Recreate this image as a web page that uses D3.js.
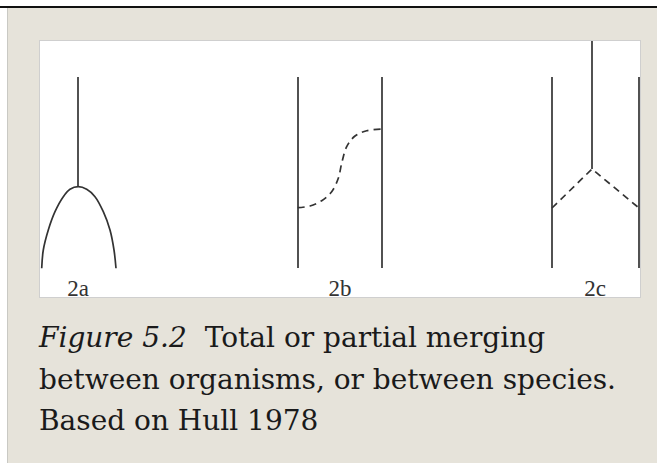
<!DOCTYPE html>
<html>
<head>
<meta charset="utf-8">
<script src="https://cdn.jsdelivr.net/npm/d3@7"></script>
<style>
  body { margin: 0; background: #ffffff; }
  svg { display: block; }
</style>
</head>
<body>
<div id="figure"></div>
<script>
// panel labels and their x position (box units, 0..600 wide, 0..256 high, y up)
var panelLabels = ["2a", "2b", "2c"];
var labelX = [38, 300, 555];

// solid lineages: [x, yBottom, yTop]
var solidLines = [
    [38, 110, 220],   // 2a stem above the split
    [258, 29, 220],   // 2b left
    [342, 29, 220],   // 2b right
    [552, 128, 256],  // 2c stem above the merge
    [512, 29, 220],   // 2c left
    [599, 29, 220]    // 2c right
];

// 2a: splitting arch
var archPoints = [[1.7, 28.7], [3.3, 47], [8.3, 67], [15, 85.3], [23.3, 100.3], [30, 107.7],
    [38.3, 110.3], [46.7, 107.7], [55, 100.3], [63.3, 85.3], [70, 67], [74, 47], [76, 28.7]];

// 2b: dashed partial merge between the two lines
var sCurvePoints = [[257.7, 89.3], [270, 91], [281.7, 96.3], [291.7, 105.3], [298.3, 118.7],
    [301.7, 133.7], [306.7, 150.3], [315, 161], [326.7, 166.3], [341.7, 168]];

// 2c: dashed joins from the stem down to both sides
var vPoints = [[512, 89], [552, 128], [599, 89]];

var captionLines = [
    ["Figure 5.2", "Total or partial merging"],
    ["", "between organisms, or between species."],
    ["", "Based on Hull 1978"]
];

var width = 657, height = 463;
var box = { left: 40, top: 41, width: 600, height: 256 };

var svg = d3.select("#figure")
    .append("svg")
    .attr("width", width)
    .attr("height", height);

// page frame
svg.append("rect")
    .attr("x", 8).attr("y", 8)
    .attr("width", width - 8).attr("height", height - 8)
    .attr("fill", "#e6e3da");
svg.append("rect")
    .attr("x", 0).attr("y", 6)
    .attr("width", width).attr("height", 2)
    .attr("fill", "#111111");
svg.append("rect")
    .attr("x", 7).attr("y", 8)
    .attr("width", 1).attr("height", height - 8)
    .attr("fill", "#c9c9c4");

// white picture box
svg.append("rect")
    .attr("x", box.left - 0.5).attr("y", box.top - 0.5)
    .attr("width", box.width + 1).attr("height", box.height + 1)
    .attr("fill", "#ffffff")
    .attr("stroke", "#cfcfcf")
    .attr("stroke-width", 1);

var x = d3.scaleLinear().domain([0, 600]).range([box.left, box.left + box.width]);
var y = d3.scaleLinear().domain([0, 256]).range([box.top + box.height, box.top]);

var g = svg.append("g");

g.selectAll(".lineage")
    .data(solidLines)
    .enter().append("line")
    .attr("class", "lineage")
    .attr("x1", function(d) { return x(d[0]); })
    .attr("x2", function(d) { return x(d[0]); })
    .attr("y1", function(d) { return y(d[1]); })
    .attr("y2", function(d) { return y(d[2]); })
    .attr("stroke", "#333333")
    .attr("stroke-width", 1.7);

var smooth = d3.line()
    .x(function(d) { return x(d[0]); })
    .y(function(d) { return y(d[1]); })
    .curve(d3.curveCatmullRom.alpha(0.5));

g.append("path")
    .attr("d", smooth(archPoints))
    .attr("fill", "none")
    .attr("stroke", "#333333")
    .attr("stroke-width", 1.7);

g.append("path")
    .attr("d", smooth(sCurvePoints))
    .attr("fill", "none")
    .attr("stroke", "#333333")
    .attr("stroke-width", 1.7)
    .attr("stroke-dasharray", "7,5");

var straight = d3.line()
    .x(function(d) { return x(d[0]); })
    .y(function(d) { return y(d[1]); });

g.append("path")
    .attr("d", straight(vPoints))
    .attr("fill", "none")
    .attr("stroke", "#333333")
    .attr("stroke-width", 1.7)
    .attr("stroke-dasharray", "7,5");

g.selectAll(".panel-label")
    .data(panelLabels)
    .enter().append("text")
    .attr("class", "panel-label")
    .attr("x", function(d, i) { return x(labelX[i]); })
    .attr("y", y(1))
    .attr("text-anchor", "middle")
    .attr("font-family", "'Liberation Serif', serif")
    .attr("font-size", 23)
    .attr("fill", "#333333")
    .text(function(d) { return d; });

// caption
var caption = svg.selectAll(".caption")
    .data(captionLines)
    .enter().append("text")
    .attr("class", "caption")
    .attr("x", 39)
    .attr("y", function(d, i) { return 347 + i * 41.5; })
    .attr("font-family", "'DejaVu Serif', serif")
    .attr("font-size", 28)
    .attr("fill", "#1a1a1a");

caption.append("tspan")
    .attr("font-style", "italic")
    .text(function(d) { return d[0]; });

caption.append("tspan")
    .attr("dx", function(d) { return d[0] ? 18 : 0; })
    .text(function(d) { return d[1]; });
</script>
</body>
</html>
